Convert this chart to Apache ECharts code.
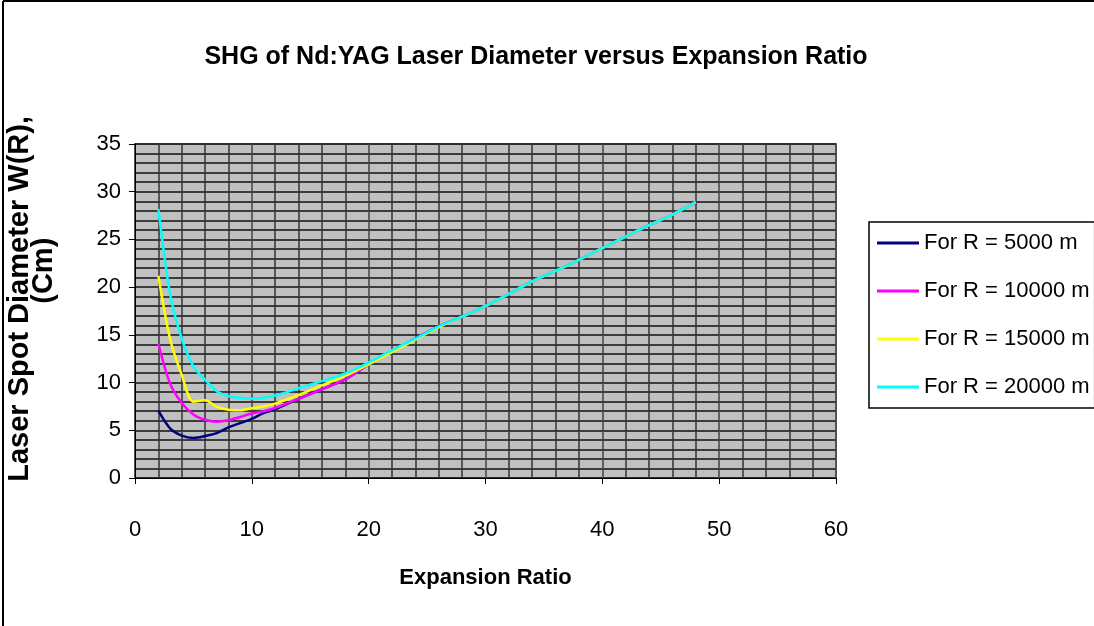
<!DOCTYPE html>
<html>
<head>
<meta charset="utf-8">
<title>SHG of Nd:YAG Laser Diameter versus Expansion Ratio</title>
<script src="https://cdn.jsdelivr.net/npm/echarts@6/dist/echarts.min.js"></script>
<style>
  html, body { margin: 0; padding: 0; background: #fff; }
  #chart { width: 1094px; height: 626px; }
</style>
</head>
<body>
<div id="chart"></div>
<script>
  // expansion ratio (x)
  var ratios = [2, 3, 4, 5, 6, 7, 8, 9, 10, 11, 12, 14, 16, 18, 20, 22, 24, 26, 28, 30, 32, 34, 36, 38, 40, 42, 44, 46, 48];

  // laser spot diameter W(R) in cm, one list per range R
  var r5000  = [7.05, 5.2, 4.45, 4.2, 4.4, 4.7, 5.3, 5.75, 6.2, 6.8, 7.2, 8.3, 9.3, 10.35, 11.9, 13.3, 14.6, 15.9, 16.9, 18.0, 19.3, 20.6, 21.7, 22.85, 24.1, 25.3, 26.5, 27.6, 28.9];
  var r10000 = [14.1, 9.9, 7.85, 6.65, 6.1, 5.9, 6.05, 6.4, 6.75, 7.0, 7.35, 8.3, 9.3, 10.35, 11.9, 13.3, 14.6, 15.9, 16.9, 18.0, 19.3, 20.6, 21.7, 22.85, 24.1, 25.3, 26.5, 27.6, 28.9];
  var r15000 = [21.2, 14.6, 10.8, 8.0, 8.15, 7.45, 7.15, 7.1, 7.3, 7.5, 7.8, 8.7, 9.7, 10.7, 11.9, 13.2, 14.5, 15.8, 16.9, 18.0, 19.3, 20.6, 21.7, 22.85, 24.1, 25.3, 26.5, 27.6, 28.9];
  var r20000 = [28.2, 19.3, 14.6, 11.7, 10.3, 9.1, 8.6, 8.4, 8.3, 8.4, 8.65, 9.4, 10.15, 10.95, 12.1, 13.4, 14.6, 15.9, 16.9, 18.0, 19.3, 20.6, 21.7, 22.85, 24.1, 25.3, 26.5, 27.6, 28.9];

  var seriesNames = ['For R = 5000 m', 'For R = 10000 m', 'For R = 15000 m', 'For R = 20000 m'];
  var seriesColors = ['#000080', '#FF00FF', '#FFFF00', '#00FFFF'];
  var seriesData = [r5000, r10000, r15000, r20000];

  var font = "'Liberation Sans', Arial, sans-serif";

  function pairs(ys) {
    return ratios.map(function (x, i) { return [x, ys[i]]; });
  }

  var myChart = echarts.init(document.getElementById('chart'));

  var option = {
    backgroundColor: '#ffffff',
    animation: false,
    textStyle: { fontFamily: font },
    title: {
      text: 'SHG of Nd:YAG Laser Diameter versus Expansion Ratio',
      left: 531,
      top: 40,
      textAlign: 'center',
      textStyle: { fontSize: 25, fontWeight: 'bold', color: '#000', fontFamily: font }
    },
    graphic: [
      { type: 'line', shape: { x1: 3, y1: 1, x2: 1094, y2: 1 }, style: { stroke: '#000', lineWidth: 2 } },
      { type: 'line', shape: { x1: 3, y1: 1, x2: 3, y2: 626 }, style: { stroke: '#000', lineWidth: 2 } }
    ],
    legend: {
      data: seriesNames,
      orient: 'vertical',
      left: 869,
      top: 222,
      padding: [9, 5, 9, 8],
      itemGap: 24,
      itemWidth: 42,
      itemHeight: 3,
      icon: 'rect',
      borderColor: '#000',
      borderWidth: 1.5,
      borderRadius: 0,
      textStyle: { fontSize: 22, lineHeight: 24, color: '#000', fontFamily: font }
    },
    grid: {
      left: 135,
      right: 258,
      top: 144,
      bottom: 148,
      show: true,
      backgroundColor: '#C0C0C0',
      borderColor: '#808080',
      borderWidth: 2,
      containLabel: false,
      outerBoundsMode: 'none'
    },
    xAxis: {
      type: 'value',
      min: 0,
      max: 60,
      interval: 10,
      name: 'Expansion Ratio',
      nameLocation: 'middle',
      nameGap: 89,
      nameTextStyle: { fontSize: 22, fontWeight: 'bold', color: '#000', fontFamily: font },
      axisLine: { show: true, onZero: false, lineStyle: { color: '#000', width: 1 } },
      axisTick: { show: true, inside: false, length: 6, lineStyle: { color: '#000' } },
      axisLabel: { fontSize: 22, color: '#000', margin: 41, fontFamily: font },
      splitLine: { show: true, lineStyle: { color: '#444', width: 1.5 } },
      minorTick: { show: false, splitNumber: 5 },
      minorSplitLine: { show: true, lineStyle: { color: '#333', width: 1.5 } }
    },
    yAxis: {
      type: 'value',
      min: 0,
      max: 35,
      interval: 5,
      name: '   Laser Spot Diameter W(R),\n          (Cm)',
      nameLocation: 'middle',
      nameRotate: 90,
      nameGap: 79,
      nameTextStyle: { fontSize: 29, fontWeight: 'bold', color: '#000', fontFamily: font, lineHeight: 24, align: 'center' },
      axisLine: { show: true, lineStyle: { color: '#000', width: 1 } },
      axisTick: { show: true, inside: false, length: 6, lineStyle: { color: '#000' } },
      axisLabel: { fontSize: 22, color: '#000', margin: 14, fontFamily: font },
      splitLine: { show: true, lineStyle: { color: '#111', width: 1.5 } },
      minorTick: { show: false, splitNumber: 5 },
      minorSplitLine: { show: true, lineStyle: { color: '#111', width: 1.5 } }
    },
    series: seriesData.map(function (ys, i) {
      return {
        name: seriesNames[i],
        type: 'line',
        data: pairs(ys),
        smooth: 0.3,
        symbol: 'none',
        color: seriesColors[i],
        lineStyle: { width: 2.5, color: seriesColors[i] },
        z: 2 + i
      };
    })
  };

  myChart.setOption(option);
</script>
</body>
</html>
